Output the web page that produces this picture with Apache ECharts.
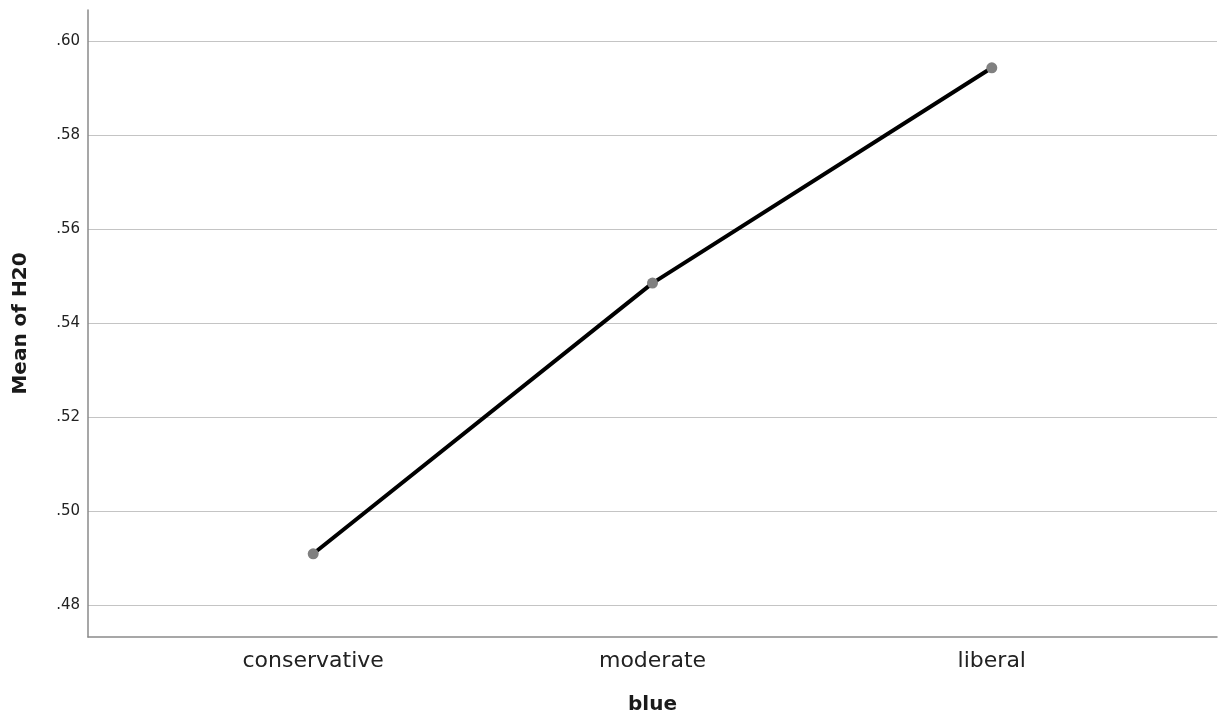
<!DOCTYPE html>
<html>
<head>
<meta charset="utf-8">
<script src="https://cdn.jsdelivr.net/npm/echarts@6/dist/echarts.min.js"></script>
<style>html,body{margin:0;padding:0;background:#fff;}#chart{width:1221px;height:714px;}</style>
</head>
<body>
<div id="chart"></div>
<script>
const categories = ['conservative', 'moderate', 'liberal'];
const meanValues = [0.4909, 0.5485, 0.5943];
const xTitle = 'blue';
const yTitle = 'Mean of H20';

const seriesData = categories.map((c, i) => [i, meanValues[i]]);
const chart = echarts.init(document.getElementById('chart'));
const font = '"DejaVu Sans", Verdana, sans-serif';
chart.setOption({
  animation: false,
  backgroundColor: '#ffffff',
  grid: { left: 88, right: 4, top: 10, bottom: 77, containLabel: false, outerBoundsMode: 'none' },
  xAxis: {
    type: 'value',
    min: -0.6637,
    max: 2.6637,
    minInterval: 1,
    maxInterval: 1,
    name: xTitle,
    nameLocation: 'middle',
    nameGap: 58,
    nameTextStyle: { fontFamily: font, fontWeight: 'bold', fontSize: 20, color: '#1a1a1a' },
    axisLine: { show: true, onZero: false, lineStyle: { color: '#8a8a8a', width: 1.5 } },
    axisTick: { show: false },
    splitLine: { show: false },
    axisLabel: {
      fontFamily: font, fontSize: 22, color: '#222', margin: 13,
      formatter: function (v) {
        const r = Math.round(v);
        return (Math.abs(v - r) < 1e-6 && categories[r] !== undefined) ? categories[r] : '';
      }
    }
  },
  yAxis: {
    type: 'value',
    min: 0.4732,
    max: 0.6066,
    minInterval: 0.02,
    maxInterval: 0.02,
    name: yTitle,
    nameLocation: 'middle',
    nameGap: 57,
    nameTextStyle: { fontFamily: font, fontWeight: 'bold', fontSize: 20, color: '#1a1a1a' },
    axisLine: { show: true, onZero: false, lineStyle: { color: '#8a8a8a', width: 1.5 } },
    axisTick: { show: false },
    splitLine: { show: true, showMinLine: false, showMaxLine: false, lineStyle: { color: '#c4c4c4', width: 1.2 } },
    axisLabel: {
      fontFamily: font, fontSize: 15, color: '#222', margin: 8,
      showMinLabel: false, showMaxLabel: false,
      formatter: function (v) {
        const k = Math.round(v * 100);
        if (Math.abs(v * 100 - k) > 1e-6 || k % 2 !== 0) return '';
        return (v).toFixed(2).replace(/^0/, '');
      }
    }
  },
  series: [{
    type: 'line',
    data: seriesData,
    lineStyle: { color: '#000', width: 4 },
    symbol: 'circle',
    symbolSize: 11,
    itemStyle: { color: '#808080' },
    z: 3
  }]
});
</script>
</body>
</html>
